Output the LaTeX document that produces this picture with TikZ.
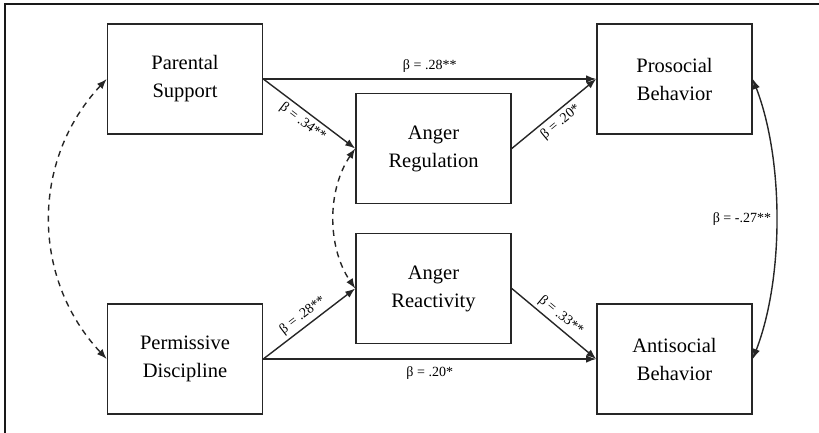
\documentclass[tikz,border=0pt]{standalone}
\usepackage{fontspec}
\setmainfont{Liberation Serif}
\usetikzlibrary{arrows.meta,calc}
\tikzset{
  boxnode/.style={draw=black!85, line width=1.6pt, minimum width=155pt, minimum height=110pt, align=center, font=\fontsize{20.5}{28}\selectfont, inner sep=0pt},
  path/.style={draw=black!85, line width=1.4pt, -{Latex[length=10pt,width=7.5pt]}},
  biarrow/.style={draw=black!85, line width=1.4pt, {Latex[length=10pt,width=7.5pt]}-{Latex[length=10pt,width=7.5pt]}},
  corr/.style={biarrow, dashed, dash pattern=on 6pt off 5pt},
  lbl/.style={font=\fontsize{14}{16}\selectfont, inner sep=2.5pt}
}
\begin{document}
\begin{tikzpicture}[x=1pt,y=-1pt]
\useasboundingbox (0,0) rectangle (819,433);
\draw[line width=2pt, black!90] (4.5,433) -- (4.5,4.5) -- (819,4.5);
\node[boxnode] (ps) at (185,79) {Parental\\Support};
\node[boxnode] (pros) at (674.5,79) {Prosocial\\Behavior};
\node[boxnode] (areg) at (433.5,148.5) {Anger\\Regulation};
\node[boxnode] (areac) at (433.5,288.5) {Anger\\Reactivity};
\node[boxnode] (perm) at (185,359) {Permissive\\Discipline};
\node[boxnode] (anti) at (674.5,359) {Antisocial\\Behavior};
\draw[path] (ps.east) -- node[lbl, above, yshift=3pt] {β = .28**} (pros.west);
\draw[path] (ps.east) -- node[lbl, sloped, below, yshift=-1pt] {β = .34**} (areg.west);
\draw[path] (areg.east) -- node[lbl, sloped, below, yshift=-1pt] {β = .20*} (pros.west);
\draw[path] (perm.east) -- node[lbl, sloped, above, yshift=1pt] {β = .28**} (areac.west);
\draw[path] (areac.east) -- node[lbl, sloped, above, yshift=1pt] {β = .33**} (anti.west);
\draw[path] (perm.east) -- node[lbl, below, yshift=-4pt] {β = .20*} (anti.west);
\draw[corr] (ps.west) .. controls (31,160) and (31,278) .. (perm.west);
\draw[corr] (areg.west) .. controls (327,190) and (327,247) .. (areac.west);
\draw[biarrow] (pros.east) .. controls (784,160) and (784,278) .. node[lbl, left, xshift=-2pt] {β = -.27**} (anti.east);
\end{tikzpicture}
\end{document}
